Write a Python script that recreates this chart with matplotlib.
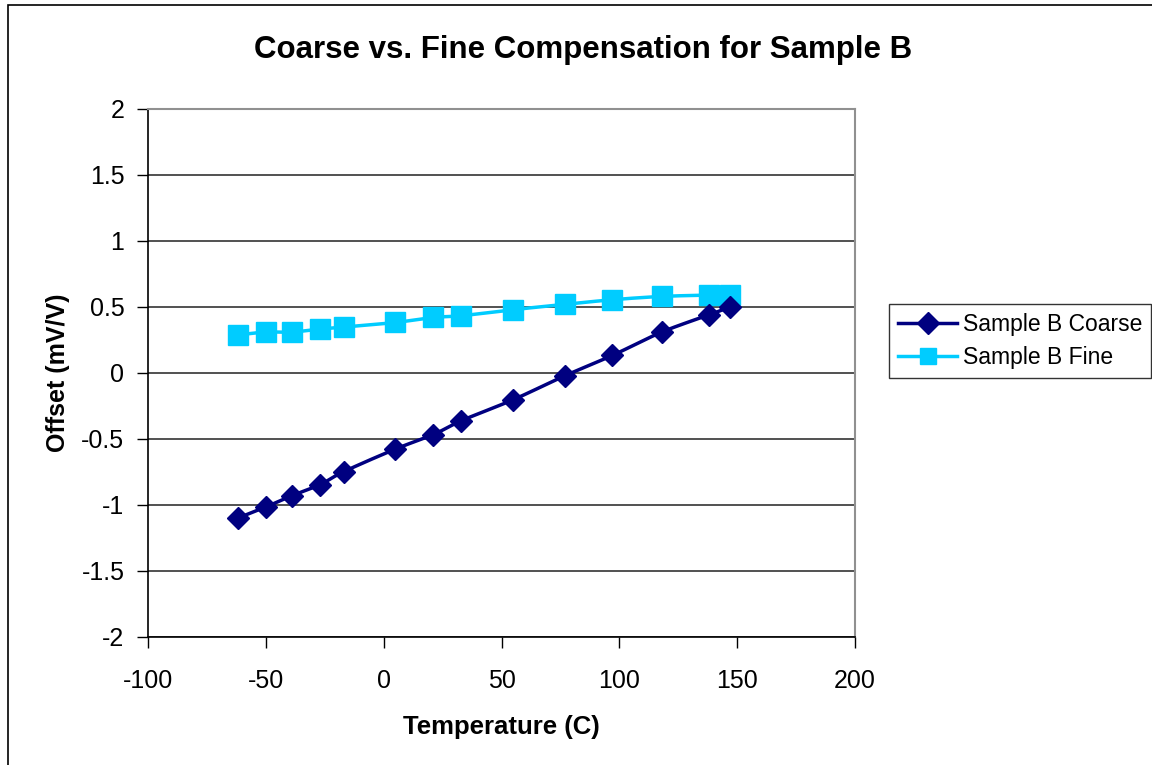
import numpy as np
import matplotlib
matplotlib.use("Agg")
import matplotlib.pyplot as plt
from matplotlib.patches import Rectangle

plt.rcParams['font.family'] = ['Liberation Sans', 'DejaVu Sans']

temperature = [-62, -50, -39, -27, -17, 5, 21, 33, 55, 77, 97, 118, 138, 147]
coarse = [-1.10, -1.015, -0.93, -0.846, -0.748, -0.576, -0.467, -0.361, -0.202,
          -0.02, 0.133, 0.31, 0.44, 0.50]
fine = [0.288, 0.31, 0.31, 0.333, 0.348, 0.383, 0.421, 0.434, 0.48,
        0.52, 0.555, 0.58, 0.59, 0.59]
x_ticks = [-100, -50, 0, 50, 100, 150, 200]
y_ticks = [-2, -1.5, -1, -0.5, 0, 0.5, 1, 1.5, 2]


def smooth(xs, ys, n=20):
    # Catmull-Rom curve through the data points (Excel-style smoothed line)
    xs = np.asarray(xs, float); ys = np.asarray(ys, float)
    px = np.concatenate([[2 * xs[0] - xs[1]], xs, [2 * xs[-1] - xs[-2]]])
    py = np.concatenate([[2 * ys[0] - ys[1]], ys, [2 * ys[-1] - ys[-2]]])
    ox, oy = [], []
    t = np.linspace(0, 1, n, endpoint=False)
    for i in range(1, len(px) - 2):
        for arr, out in ((px, ox), (py, oy)):
            p0, p1, p2, p3 = arr[i - 1], arr[i], arr[i + 1], arr[i + 2]
            out.extend(0.5 * ((2 * p1) + (-p0 + p2) * t
                              + (2 * p0 - 5 * p1 + 4 * p2 - p3) * t ** 2
                              + (-p0 + 3 * p1 - 3 * p2 + p3) * t ** 3))
    ox.append(xs[-1]); oy.append(ys[-1])
    return ox, oy


W, H = 1152, 765
fig = plt.figure(figsize=(W / 100, H / 100), dpi=100)
fig.patches.append(Rectangle((8 / W, -0.1), 1.2, 1 - 5 / H + 0.1,
                             transform=fig.transFigure, fill=False,
                             edgecolor='black', linewidth=1.2))

ax = fig.add_axes([148 / W, 1 - 637 / H, (855 - 148) / W, (637 - 109) / H])
ax.set_xlim(-100, 200)
ax.set_ylim(-2, 2)
ax.set_xticks(x_ticks)
ax.set_yticks(y_ticks)
ax.set_xticklabels([f"{v:g}" for v in x_ticks])
ax.set_yticklabels([f"{v:g}" for v in y_ticks])
ax.tick_params(axis='both', direction='out', length=8, width=1, labelsize=18,
               color='black')
ax.tick_params(axis='y', pad=9)
ax.tick_params(axis='x', pad=15)
ax.yaxis.grid(True, color='#333333', linewidth=1.2)
ax.set_axisbelow(True)
for s in ('top', 'right'):
    ax.spines[s].set_color('#909090')
    ax.spines[s].set_linewidth(1.5)
for s in ('left', 'bottom'):
    ax.spines[s].set_color('black')
    ax.spines[s].set_linewidth(1.2)

navy = '#000080'
cyan = '#00CCFF'
sx, sy = smooth(temperature, fine)
ax.plot(sx, sy, color=cyan, linewidth=2.5, zorder=3)
ax.plot(temperature, fine, linestyle='none', marker='s', markersize=14,
        color=cyan, zorder=4)
cx, cy = smooth(temperature, coarse)
ax.plot(cx, cy, color=navy, linewidth=2.5, zorder=5)
ax.plot(temperature, coarse, linestyle='none', marker='D', markersize=11.5,
        color=navy, zorder=6)

h1, = ax.plot([], [], color=navy, linewidth=2.5, marker='D', markersize=11)
h2, = ax.plot([], [], color=cyan, linewidth=2.5, marker='s', markersize=12)
leg = fig.legend([h1, h2], ['Sample B Coarse', 'Sample B Fine'],
                 loc='upper left', bbox_to_anchor=(889 / W, 1 - 304 / H),
                 fontsize=16.5, frameon=True, fancybox=False, edgecolor='black',
                 handlelength=2.6, borderpad=0.38, labelspacing=0.45,
                 handletextpad=0.25, borderaxespad=0)
leg.get_frame().set_linewidth(1.0)

fig.text(583 / W, 1 - 50 / H, 'Coarse vs. Fine Compensation for Sample B',
         ha='center', va='center', fontsize=22.5, fontweight='bold')
ax.set_xlabel('Temperature (C)', fontsize=18.5, fontweight='bold', labelpad=16)
ax.set_ylabel('Offset (mV/V)', fontsize=18, fontweight='bold', labelpad=8)

fig.savefig('out.png', dpi=100, facecolor='white')
